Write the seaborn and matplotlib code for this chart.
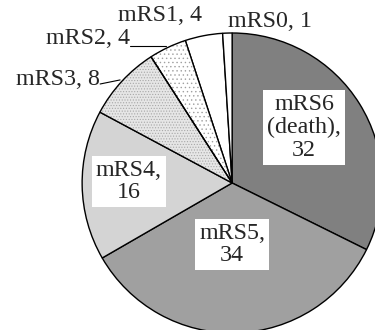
import matplotlib
matplotlib.use("Agg")
import matplotlib.pyplot as plt
from matplotlib.patches import Wedge
import seaborn as sns

labels = ["mRS6\n(death),\n32", "mRS5,\n34", "mRS4,\n16", "mRS3, 8", "mRS2, 4", "mRS1, 4", "mRS0, 1"]
values = [32, 34, 16, 8, 4, 4, 1]
colors = ["#808080", "#a0a0a0", "#d4d4d4", "#e6e6e6", "#ffffff", "#ffffff", "#ffffff"]
hatches = [None, None, None, "......", "....", None, None]

sns.set_theme(style="white")
plt.rcParams["font.family"] = ["Liberation Serif", "DejaVu Serif"]
plt.rcParams["hatch.linewidth"] = 0.5

fig = plt.figure(figsize=(3.75, 3.3), dpi=100)
ax = fig.add_axes([0.219, -0.009, 0.8, 0.909])
wedges, _ = ax.pie(values, colors=colors, startangle=90, counterclock=False,
                   wedgeprops=dict(edgecolor="black", linewidth=1.0))
hatch_colors = [None, None, None, "#a8a8a8", "#a0a0a0", None, None]
for w, h, hc in zip(wedges, hatches, hatch_colors):
    if h:
        ov = Wedge(w.center, w.r, w.theta1, w.theta2, facecolor=w.get_facecolor(),
                   edgecolor=hc, hatch=h, linewidth=0)
        ax.add_patch(ov)
        w.set_zorder(ov.get_zorder() + 1)
        w.set_facecolor("none")
ax.set_xlim(-1, 1)
ax.set_ylim(-1, 1)
ax.set_aspect("auto")
ax.axis("off")

fs = 17.3
box = dict(facecolor="white", edgecolor="none", pad=3)
ax.text(0.48, 0.37, labels[0], ha="center", va="center", fontsize=fs, bbox=box, linespacing=1.1)
ax.text(0.0, -0.41, labels[1], ha="center", va="center", fontsize=fs, bbox=box, linespacing=1.1)
ax.text(-0.69, 0.01, labels[2], ha="center", va="center", fontsize=fs, bbox=box, linespacing=1.1)
ax.text(-0.88, 0.69, labels[3], ha="right", va="center", fontsize=fs, clip_on=False)
ax.plot([-0.88, -0.747], [0.66, 0.687], color="black", lw=0.8, clip_on=False)
ax.text(-0.68, 0.96, labels[4], ha="right", va="center", fontsize=fs, clip_on=False)
ax.plot([-0.68, -0.44], [0.913, 0.913], color="black", lw=0.8, clip_on=False)
ax.text(-0.48, 1.12, labels[5], ha="center", va="center", fontsize=fs, clip_on=False)
ax.text(0.253, 1.08, labels[6], ha="center", va="center", fontsize=fs, clip_on=False)

fig.savefig("out.png", dpi=100)
